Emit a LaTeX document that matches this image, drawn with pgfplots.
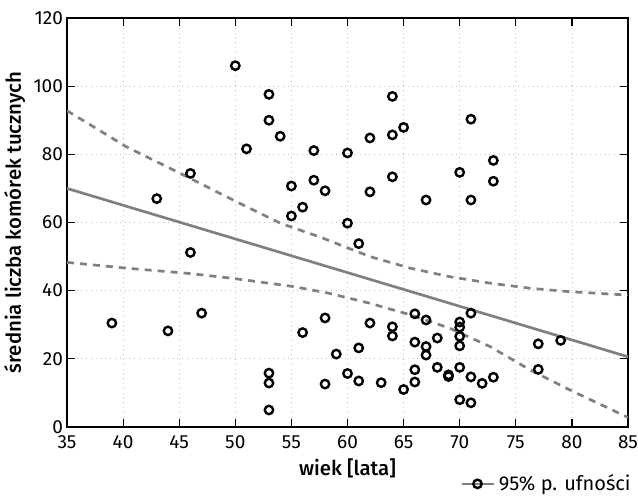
\documentclass[border=0pt]{standalone}
\usepackage{fontspec}
\setmainfont{Fira Sans}[BoldFont={Fira Sans Medium}]
\usepackage{pgfplots}
\pgfplotsset{compat=1.18}

\pgfplotstableread{
x y
39 30.5
43 67
44 28.2
46 74.4
46 51.2
47 33.4
50 106
51 81.6
53 97.6
53 90
53 15.8
53 12.9
53 5
54 85.3
55 70.7
55 61.9
56 64.5
56 27.7
57 81.1
57 72.4
58 69.3
58 32
58 12.6
59 21.4
60 80.4
60 59.8
60 15.7
61 53.8
61 23.2
61 13.5
62 84.8
62 69
62 30.5
63 13
64 97
64 85.7
64 73.4
64 29.4
64 26.7
65 87.9
65 11
66 33.2
66 24.9
66 16.8
66 13.2
67 66.6
67 31.4
67 23.6
67 21.1
68 26.1
68 17.5
69 15.3
69 14.8
70 74.7
70 30.8
70 29.3
70 26.6
70 23.8
70 17.5
70 8
71 90.3
71 66.6
71 33.4
71 14.7
71 7.1
72 12.8
73 78.2
73 72.1
73 14.6
77 24.4
77 16.9
79 25.4
}\pts

\pgfplotstableread{
x y
35 92.8
40.3 82.2
44.8 74.9
49.8 66.6
54 59.8
57.5 55.8
62 50
65.6 46.6
69.1 44.1
72.7 42.2
76.3 40.7
79.8 39.7
85 38.7
}\upperci

\pgfplotstableread{
x y
35 48.3
40.3 46.6
45.7 45.1
49.8 43.6
55.2 41.2
58.4 39.2
62 36.3
65.6 32.9
69.1 29
72.7 23.6
76.3 16.7
79.8 10.9
85 2.8
}\lowerci

\begin{document}
\begin{tikzpicture}
\begin{axis}[
    name=ax,
    scale only axis, width=280.5pt, height=204.5pt,
    xmin=35, xmax=85, ymin=0, ymax=120,
    xtick={35,40,...,85}, ytick={0,20,...,120},
    tick align=inside, tick pos=both,
    major tick length=4pt,
    axis line style={black, line width=0.7pt},
    tick style={black, line width=0.6pt},
    grid=major, grid style={gray!50, dotted, line width=0.4pt},
    tick label style={font=\fontsize{9.5}{10}\selectfont},
    yticklabel style={xshift=1.5pt},
    xticklabel style={yshift=-1pt},
    /pgf/number format/assume math mode=true,
    xlabel={\bfseries wiek [lata]},
    ylabel={\bfseries średnia liczba komórek tucznych},
    label style={font=\fontsize{10.2}{11}\selectfont},
    xlabel style={at={(axis description cs:0.5,-0.1)}, anchor=center},
    ylabel style={at={(axis description cs:-0.093,0.5)}, anchor=center},
    legend style={at={(1.0125,-0.139)}, anchor=east, draw=none, fill=none,
        font=\fontsize{10}{11}\selectfont, inner sep=0pt},
    legend image code/.code={
        \draw[gray, line width=1.35pt] (-2pt,0pt) -- (14pt,0pt);
        \draw[black, line width=1.2pt] plot[mark=o, mark size=2.1pt] coordinates {(6pt,0pt)};
    },
]
\addplot[gray, line width=1.35pt, forget plot] coordinates {(35,70) (85,20.6)};
\addplot[gray, line width=1.35pt, dash pattern=on 3.5pt off 3pt, forget plot] table {\upperci};
\addplot[gray, line width=1.35pt, dash pattern=on 3.5pt off 3pt, forget plot] table {\lowerci};
\addplot[only marks, mark=o, mark size=2.1pt, black, line width=1.2pt, forget plot] table {\pts};
\addlegendimage{}
\addlegendentry{95\% p. ufności}
\end{axis}
\pgfresetboundingbox
\path ([xshift=-33.5pt,yshift=-34pt]ax.south west) rectangle ([xshift=5pt,yshift=9pt]ax.north east);
\end{tikzpicture}
\end{document}
